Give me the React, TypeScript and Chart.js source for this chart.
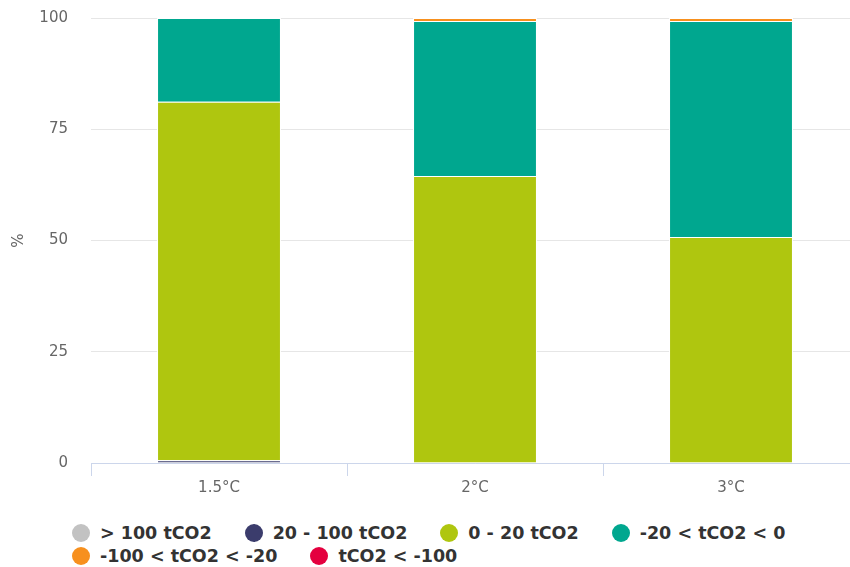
import React, { useEffect, useRef } from "react";
import { Chart, registerables } from "chart.js";

Chart.register(...registerables);

const categories = ["1.5°C", "2°C", "3°C"];
const seriesNames = [
  "> 100 tCO2",
  "20 - 100 tCO2",
  "0 - 20 tCO2",
  "-20 < tCO2 < 0",
  "-100 < tCO2 < -20",
  "tCO2 < -100",
];
const over100 = [0, 0, 0];
const from20to100 = [0.6, 0, 0];
const from0to20 = [80.6, 64.5, 50.8];
const minus20to0 = [18.8, 34.8, 48.5];
const minus100toMinus20 = [0, 0.7, 0.7];
const belowMinus100 = [0, 0, 0];
const yTicks = [0, 25, 50, 75, 100];

const seriesValues = [over100, from20to100, from0to20, minus20to0, minus100toMinus20, belowMinus100];
const colors = ["#c2c2c2", "#3b3c6c", "#afc60f", "#00a78f", "#f7901e", "#e4003f"];

const FONT = "'DejaVu Sans', Verdana, sans-serif";

export default function App() {
  const ref = useRef<HTMLCanvasElement | null>(null);

  useEffect(() => {
    if (!ref.current) return;
    const chart = new Chart(ref.current, {
      type: "bar",
      data: {
        labels: categories,
        datasets: seriesNames.map((name, i) => ({
          label: name,
          data: seriesValues[i],
          backgroundColor: colors[i],
          borderColor: "#ffffff",
          borderWidth: (ctx: any) => (ctx.raw > 0 ? 1 : 0),
          borderSkipped: "start" as const,
          barPercentage: 0.484,
          categoryPercentage: 1,
        })),
      },
      options: {
        responsive: false,
        animation: false,
        layout: { padding: { top: 4, right: 9, left: 0, bottom: 0 } },
        plugins: {
          legend: { display: false },
          tooltip: { enabled: false },
        },
        scales: {
          x: {
            stacked: true,
            offset: true,
            grid: {
              offset: true,
              drawOnChartArea: false,
              color: "#ccd6eb",
              tickLength: 13,
            },
            border: { color: "#ccd6eb", width: 1 },
            ticks: {
              color: "#666666",
              font: { family: FONT, size: 15 },
              padding: 3,
            },
            afterFit: (s: any) => {
              s.height = 47;
            },
          },
          y: {
            stacked: true,
            min: 0,
            max: 100,
            afterBuildTicks: (s: any) => {
              s.ticks = yTicks.map((v) => ({ value: v }));
            },
            grid: { color: "#e6e6e6", drawTicks: false },
            border: { display: false },
            ticks: {
              color: "#666666",
              font: { family: FONT, size: 15 },
              padding: 23,
            },
            title: {
              display: true,
              text: "%",
              color: "#666666",
              font: { family: FONT, size: 15 },
              padding: { top: 10, bottom: 0 },
            },
            afterFit: (s: any) => {
              s.width = 91;
            },
          },
        },
      },
    });
    return () => chart.destroy();
  }, []);

  return (
    <div
      style={{
        position: "fixed",
        left: 0,
        top: 0,
        width: 850,
        height: 567,
        overflow: "hidden",
        background: "#ffffff",
      }}
    >
      <canvas
        ref={ref}
        width={868}
        height={524}
        style={{ width: 868, height: 524, display: "block", position: "absolute", left: 0, top: -14 }}
      />
      <div
        style={{
          position: "absolute",
          left: 72,
          top: 522,
          width: 775,
          display: "flex",
          flexWrap: "wrap",
          rowGap: 2,
          fontFamily: FONT,
          fontWeight: "bold",
          fontSize: 17.5,
          color: "#333333",
        }}
      >
        {seriesNames.map((name, i) => (
          <div
            key={name}
            style={{ display: "flex", alignItems: "center", marginRight: 33, height: 21, whiteSpace: "nowrap" }}
          >
            <span
              style={{
                display: "inline-block",
                width: 18,
                height: 18,
                borderRadius: 9,
                background: colors[i],
                marginRight: 10,
              }}
            />
            <span>{name}</span>
          </div>
        ))}
      </div>
    </div>
  );
}
